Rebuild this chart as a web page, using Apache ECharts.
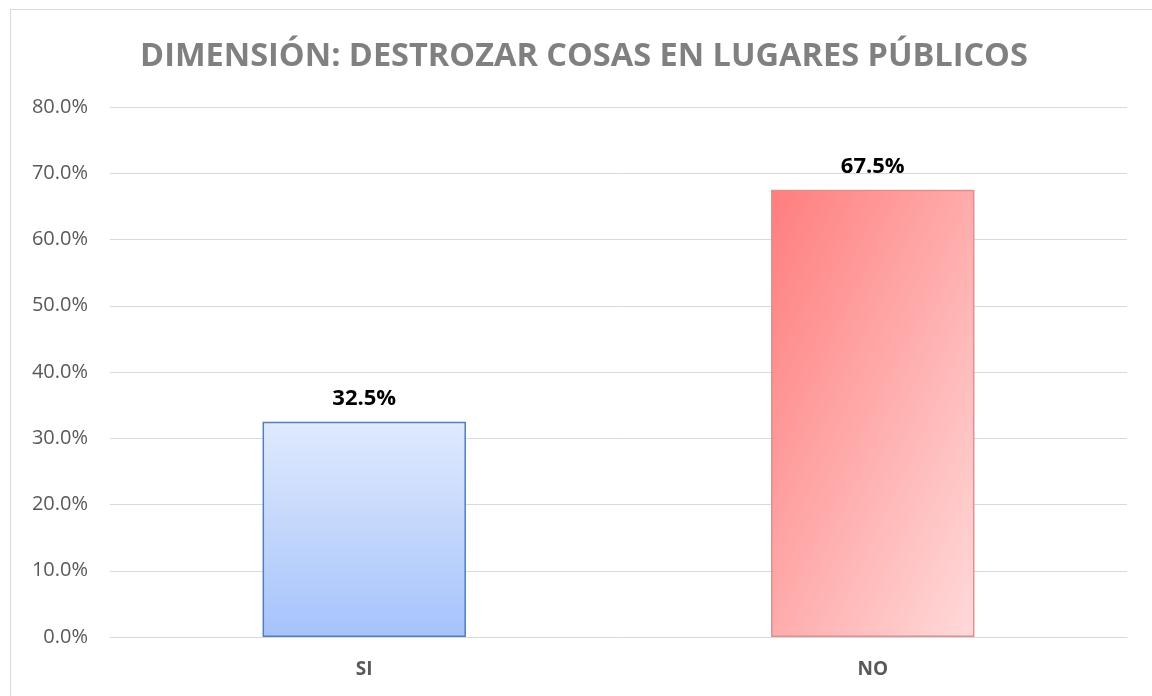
<!DOCTYPE html>
<html>
<head>
<meta charset="utf-8">
<script src="https://cdn.jsdelivr.net/npm/echarts@6/dist/echarts.min.js"></script>
<style>
  html, body { margin: 0; padding: 0; background: #fff; }
  #frame { position: absolute; left: 10px; top: 9px; width: 1150px; height: 700px; border: 1px solid #d9d9d9; box-sizing: border-box; }
  #chart { position: absolute; left: 0; top: 0; width: 1152px; height: 696px; }
</style>
</head>
<body>
<div id="frame"></div>
<div id="chart"></div>
<script>
  const categories = ["SI", "NO"];
  const values = [32.5, 67.5];
  const titleText = "DIMENSIÓN: DESTROZAR COSAS EN LUGARES PÚBLICOS";

  // gradiente diagonal "escalado con la forma" (como Excel) para la barra NO
  const barStyles = [
    {
      color: new echarts.graphic.LinearGradient(0, 0, 0, 1, [
        { offset: 0, color: "#e0eafd" },
        { offset: 1, color: "#a5c3fb" },
      ]),
      borderColor: "#4f7fbd",
      borderWidth: 1.5,
    },
    {
      color: new echarts.graphic.LinearGradient(0, 0, 1.655, 0.344, [
        { offset: 0, color: "#ff7d7d" },
        { offset: 1, color: "#ffdada" },
      ]),
      borderColor: "#e08e8e",
      borderWidth: 1.5,
    },
  ];

  const myChart = echarts.init(document.getElementById("chart"));
  myChart.setOption({
    textStyle: { fontFamily: "Open Sans" },
    title: {
      text: titleText,
      left: 579,
      textAlign: "center",
      top: 35,
      textStyle: { color: "#808080", fontSize: 32.5, fontWeight: "bold", fontFamily: "Open Sans" },
    },
    grid: { left: 110, right: 25, top: 107, bottom: 59 },
    xAxis: {
      type: "category",
      data: categories,
      axisLine: { lineStyle: { color: "#d9d9d9" } },
      axisTick: { show: false },
      axisLabel: { color: "#595959", fontSize: 19, fontWeight: "bold", margin: 23 },
    },
    yAxis: {
      type: "value",
      min: 0,
      max: 80,
      interval: 10,
      axisLine: { show: false },
      axisTick: { show: false },
      splitLine: { lineStyle: { color: "#d9d9d9" } },
      axisLabel: {
        color: "#595959",
        fontSize: 20,
        margin: 22,
        formatter: (v) => v.toFixed(1) + "%",
      },
    },
    series: [
      {
        type: "bar",
        barWidth: "40%",
        data: values.map((v, i) => ({ value: v, itemStyle: barStyles[i] })),
        label: {
          show: true,
          position: "top",
          distance: 12,
          color: "#000",
          fontSize: 22,
          fontWeight: "bold",
          formatter: (p) => p.value.toFixed(1) + "%",
        },
      },
    ],
  });
</script>
</body>
</html>
